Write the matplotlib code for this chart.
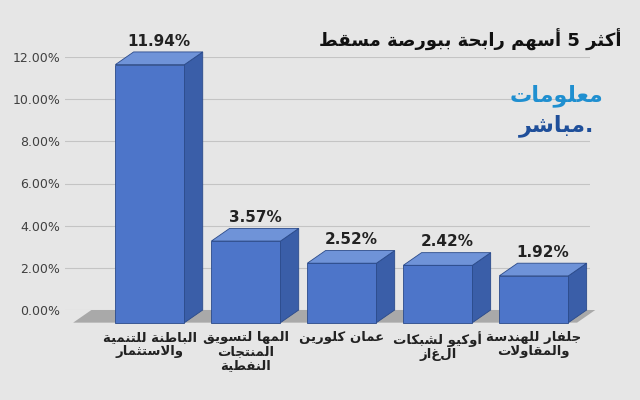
import matplotlib
matplotlib.use("Agg")
import matplotlib.pyplot as plt
from matplotlib.patches import Polygon

title = "أكثر 5 أسهم رابحة ببورصة مسقط"
categories = ["الباطنة للتنمية\nوالاستثمار", "المها لتسويق\nالمنتجات\nالنفطية", "عمان كلورين",
              "أوكيو لشبكات\nالغاز", "جلفار للهندسة\nوالمقاولات"]
values = [11.94, 3.57, 2.52, 2.42, 1.92]
yticks = [0, 2, 4, 6, 8, 10, 12]

F = {'ا': (0xFE8D, 0xFE8E, None, None), 'أ': (0xFE83, 0xFE84, None, None),
     'ب': (0xFE8F, 0xFE90, 0xFE91, 0xFE92), 'ة': (0xFE93, 0xFE94, None, None),
     'ت': (0xFE95, 0xFE96, 0xFE97, 0xFE98), 'ث': (0xFE99, 0xFE9A, 0xFE9B, 0xFE9C),
     'ج': (0xFE9D, 0xFE9E, 0xFE9F, 0xFEA0), 'ح': (0xFEA1, 0xFEA2, 0xFEA3, 0xFEA4),
     'د': (0xFEA9, 0xFEAA, None, None), 'ر': (0xFEAD, 0xFEAE, None, None),
     'ز': (0xFEAF, 0xFEB0, None, None), 'س': (0xFEB1, 0xFEB2, 0xFEB3, 0xFEB4),
     'ش': (0xFEB5, 0xFEB6, 0xFEB7, 0xFEB8), 'ص': (0xFEB9, 0xFEBA, 0xFEBB, 0xFEBC),
     'ط': (0xFEC1, 0xFEC2, 0xFEC3, 0xFEC4), 'ع': (0xFEC9, 0xFECA, 0xFECB, 0xFECC),
     'ف': (0xFED1, 0xFED2, 0xFED3, 0xFED4), 'ق': (0xFED5, 0xFED6, 0xFED7, 0xFED8),
     'ك': (0xFED9, 0xFEDA, 0xFEDB, 0xFEDC), 'ل': (0xFEDD, 0xFEDE, 0xFEDF, 0xFEE0),
     'م': (0xFEE1, 0xFEE2, 0xFEE3, 0xFEE4), 'ن': (0xFEE5, 0xFEE6, 0xFEE7, 0xFEE8),
     'ه': (0xFEE9, 0xFEEA, 0xFEEB, 0xFEEC), 'و': (0xFEED, 0xFEEE, None, None),
     'ي': (0xFEF1, 0xFEF2, 0xFEF3, 0xFEF4)}
LA = {'ا': (0xFEFB, 0xFEFC), 'أ': (0xFEF7, 0xFEF8)}

def shape_line(s):
    out = []
    i = 0
    n = len(s)
    while i < n:
        c = s[i]
        if c not in F:
            out.append(c); i += 1; continue
        prev = s[i-1] if i > 0 else ''
        jp = prev in F and F[prev][2] is not None
        if c == 'ل' and i + 1 < n and s[i+1] in LA:
            out.append(chr(LA[s[i+1]][1 if jp else 0])); i += 2; continue
        nxt = s[i+1] if i + 1 < n else ''
        jn = F[c][2] is not None and nxt in F
        iso, fin, ini, med = F[c]
        out.append(chr(med if jp and jn else fin if jp else ini if jn else iso))
        i += 1
    return ''.join(out)[::-1]

def ar(s):
    return "\n".join(shape_line(l) for l in s.split("\n"))

plt.rcParams['font.family'] = ['DejaVu Sans']
fig = plt.figure(figsize=(6.4, 4.0), dpi=100)
fig.patch.set_facecolor('#e6e6e6')
ax = fig.add_axes([65/640, 90/400, 525/640, 253/400])
ax.set_facecolor('none')
ax.set_xlim(-0.885, 4.585)
ax.set_ylim(0, 12)
for s in ax.spines.values():
    s.set_visible(False)
ax.set_yticks(yticks)
ax.set_yticklabels([f"{t:.2f}%" for t in yticks], fontsize=9, color='#404040')
ax.tick_params(length=0)
ax.set_xticks([])
for t in yticks:
    ax.axhline(t, color='#c4c4c4', lw=0.8, zorder=0)

w, dx, dy = 0.72, 0.19, 0.6
ax.add_patch(Polygon([(-0.8, -dy), (4.45, -dy), (4.45 + dx, 0), (-0.8 + dx, 0)],
                     closed=True, fc='#a9a9a9', ec='none', zorder=1, clip_on=False))
for i, v in enumerate(values):
    x0 = i - w / 2
    x1 = i + w / 2
    b, t = -dy, v - dy / 2
    ax.add_patch(Polygon([(x1, b), (x1 + dx, b + dy), (x1 + dx, t + dy), (x1, t)],
                         fc='#3a5ea8', ec='#2a4a8a', lw=0.6, zorder=2, clip_on=False))
    ax.add_patch(Polygon([(x0, t), (x1, t), (x1 + dx, t + dy), (x0 + dx, t + dy)],
                         fc='#6f93d8', ec='#2a4a8a', lw=0.6, zorder=2, clip_on=False))
    ax.add_patch(Polygon([(x0, b), (x1, b), (x1, t), (x0, t)],
                         fc='#4d75c9', ec='#2a4a8a', lw=0.6, zorder=3, clip_on=False))
    ax.text(i + dx / 2, t + dy + 0.15, f"{v:.2f}%", ha='center', va='bottom',
            fontsize=11, fontweight='bold', color='#222222')
    ax.text(i, -1.0, ar(categories[i]), ha='center', va='top', fontsize=9.5,
            fontweight='bold', color='#222222', linespacing=1.1)

fig.text(0.735, 0.9, ar(title), ha='center', va='center', fontsize=13,
         fontweight='bold', color='#111111')
fig.text(0.87, 0.76, ar("معلومات"), ha='center', va='center', fontsize=16,
         fontweight='bold', color='#1f8fd0')
fig.text(0.87, 0.685, ar("مباشر") + ".", ha='center', va='center', fontsize=16,
         fontweight='bold', color='#1f4f9a')
fig.savefig("out.png", dpi=100, facecolor=fig.get_facecolor())
